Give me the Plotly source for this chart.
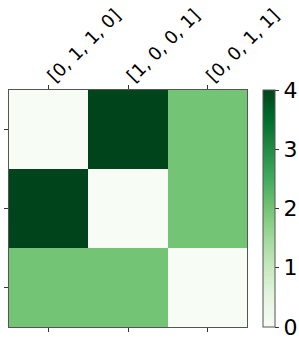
import plotly.graph_objects as go

labels = ["[0, 1, 1, 0]", "[1, 0, 0, 1]", "[0, 0, 1, 1]"]
z = [[0, 4, 2],
     [4, 0, 2],
     [2, 2, 0]]
cbar_ticks = [0, 1, 2, 3, 4]

greens = ["#f7fcf5", "#e5f5e0", "#c7e9c0", "#a1d99b", "#74c476",
          "#41ab5d", "#238b45", "#006d2c", "#00441b"]
cs = [[i / (len(greens) - 1), c] for i, c in enumerate(greens)]

idx = list(range(len(labels)))
font = dict(family="DejaVu Sans", size=18, color="black")

fig = go.Figure(go.Heatmap(
    z=z, x=idx, y=idx, colorscale=cs, zmin=0, zmax=4,
    colorbar=dict(
        x=1.067, xanchor="left", xref="paper", thickness=12, len=1, lenmode="fraction",
        y=0.5, yanchor="middle", outlinecolor="#555", outlinewidth=1, xpad=0, ypad=0,
        tickvals=cbar_ticks, ticks="outside", ticklen=4, tickcolor="#333",
        tickfont=dict(family="DejaVu Sans", size=22, color="black"),
    ),
))

fig.update_layout(
    width=299, height=345,
    margin=dict(l=9, r=52, t=90, b=18, autoexpand=False),
    paper_bgcolor="white", plot_bgcolor="white",
    xaxis=dict(side="top", tickvals=idx, ticktext=labels, tickangle=-45,
               range=[-0.5, 2.5], ticks="outside", ticklen=4, tickcolor="#333",
               showline=True, linecolor="#555", linewidth=1, mirror=True,
               showgrid=False, zeroline=False, tickfont=font, automargin=False,
               ticklabelstandoff=-8),
    xaxis2=dict(overlaying="x", side="bottom", matches="x", tickvals=idx,
                showticklabels=False, ticks="outside", ticklen=4, tickcolor="#333",
                showgrid=False, zeroline=False, range=[-0.5, 2.5], automargin=False),
    yaxis=dict(tickvals=idx, showticklabels=False, range=[2.5, -0.5],
               ticks="outside", ticklen=4, tickcolor="#333",
               showline=True, linecolor="#555", linewidth=1, mirror=True,
               showgrid=False, zeroline=False, automargin=False),
)
fig.add_trace(go.Scatter(x=[None], y=[None], xaxis="x2", showlegend=False))

fig.write_html("out.html", config={"displayModeBar": False},
               post_script="document.body.style.margin='0';")
